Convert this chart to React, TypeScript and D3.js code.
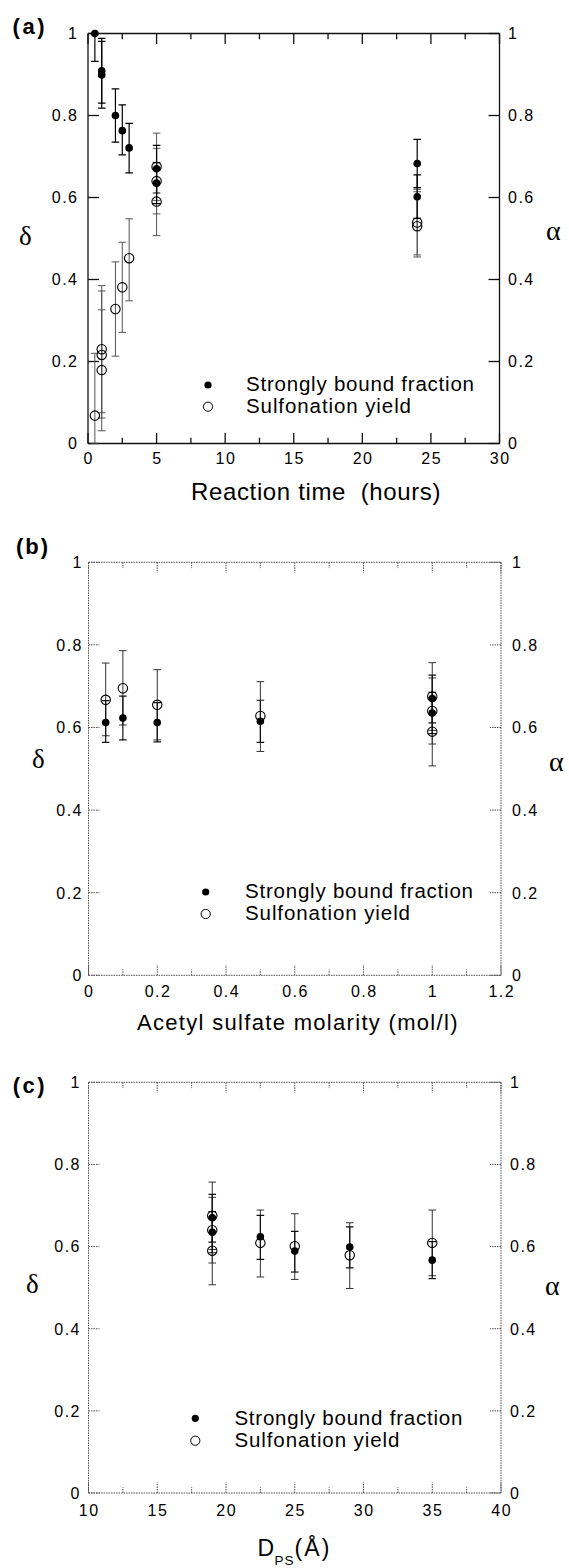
import React from "react";
import * as d3 from "d3";

// ---------- Panel (a): reaction time (hours) ----------
const timeBoundX = [0.5, 1, 1, 2, 2.5, 3, 5, 5, 24, 24];
const timeBoundY = [1.0, 0.909, 0.899, 0.8, 0.763, 0.721, 0.67, 0.635, 0.683, 0.602];
const timeBoundLo = [0.932, 0.83, 0.818, 0.735, 0.704, 0.66, 0.611, 0.585, 0.624, 0.549];
const timeBoundHi = [1.068, 0.988, 0.981, 0.865, 0.826, 0.781, 0.727, 0.685, 0.742, 0.655];
const timeYieldX = [0.5, 1, 1, 1, 2, 2.5, 3, 5, 5, 5, 24, 24];
const timeYieldY = [0.068, 0.23, 0.216, 0.179, 0.328, 0.381, 0.452, 0.675, 0.64, 0.59, 0.539, 0.53];
const timeYieldLo = [0, 0.075, 0.062, 0.031, 0.213, 0.271, 0.348, 0.593, 0.56, 0.507, 0.46, 0.455];
const timeYieldHi = [0.22, 0.385, 0.372, 0.326, 0.443, 0.491, 0.548, 0.757, 0.72, 0.673, 0.62, 0.614];
const timeTicks = [0, 5, 10, 15, 20, 25, 30];
const timeMinorTicks = [2.5, 7.5, 12.5, 17.5, 22.5, 27.5];

// ---------- Panel (b): acetyl sulfate molarity (mol/l) ----------
const molarityBoundX = [0.05, 0.1, 0.2, 0.5, 1, 1];
const molarityBoundY = [0.612, 0.623, 0.612, 0.615, 0.67, 0.635];
const molarityBoundLo = [0.564, 0.57, 0.565, 0.564, 0.611, 0.585];
const molarityBoundHi = [0.665, 0.676, 0.66, 0.666, 0.727, 0.685];
const molarityYieldX = [0.05, 0.1, 0.2, 0.5, 1, 1, 1];
const molarityYieldY = [0.667, 0.695, 0.655, 0.628, 0.675, 0.64, 0.59];
const molarityYieldLo = [0.58, 0.606, 0.57, 0.542, 0.593, 0.56, 0.507];
const molarityYieldHi = [0.756, 0.786, 0.74, 0.711, 0.757, 0.72, 0.673];
const molarityTicks = [0, 0.2, 0.4, 0.6, 0.8, 1, 1.2];
const molarityMinorTicks = [0.1, 0.3, 0.5, 0.7, 0.9, 1.1];

// ---------- Panel (c): D_PS (Å) ----------
const diameterBoundX = [19, 19, 22.5, 25, 29, 35];
const diameterBoundY = [0.67, 0.635, 0.624, 0.589, 0.599, 0.567];
const diameterBoundLo = [0.611, 0.585, 0.569, 0.538, 0.548, 0.522];
const diameterBoundHi = [0.727, 0.685, 0.676, 0.637, 0.648, 0.612];
const diameterYieldX = [19, 19, 19, 22.5, 25, 29, 35];
const diameterYieldY = [0.675, 0.64, 0.59, 0.609, 0.601, 0.579, 0.609];
const diameterYieldLo = [0.593, 0.56, 0.507, 0.526, 0.52, 0.498, 0.529];
const diameterYieldHi = [0.757, 0.72, 0.673, 0.689, 0.68, 0.658, 0.689];
const diameterTicks = [10, 15, 20, 25, 30, 35, 40];
const diameterMinorTicks = [12.5, 17.5, 22.5, 27.5, 32.5, 37.5];

const fractionTicks = [0, 0.2, 0.4, 0.6, 0.8, 1];
const legendLabels = ["Strongly bound fraction", "Sulfonation yield"];

const SANS = "'Liberation Sans', Arial, Helvetica, sans-serif";
const SERIF = "'Liberation Serif', 'Times New Roman', serif";

type Series = { x: number[]; y: number[]; lo: number[]; hi: number[] };

type PanelProps = {
  id: string;
  left: number; right: number; top: number; bottom: number;
  xDomain: [number, number];
  xTicks: number[]; xMinor: number[];
  bound: Series; yld: Series;
  tag: string; tagX: number; tagY: number;
  deltaX: number; deltaY: number; alphaX: number; alphaY: number;
  leftGap: number; rightGap: number; xLabelDy: number;
  frameStroke: string; frameWidth: number; frameDash?: string;
  boundBar: string; yieldBar: string;
  legX: number; legY1: number; legY2: number; legTextX: number; legBase1: number; legBase2: number;
  title: React.ReactNode;
};

function Panel(p: PanelProps) {
  const x = d3.scaleLinear().domain(p.xDomain).range([p.left, p.right]);
  const y = d3.scaleLinear().domain([0, 1]).range([p.bottom, p.top]);
  const cap = 3.8;
  const major = 10.5, minor = 5.8, yTick = 11;
  const tickStyle = { stroke: p.frameStroke, strokeWidth: p.frameWidth, strokeDasharray: p.frameDash };
  const bars = (s: Series, color: string, w: number) =>
    s.x.map((xv, i) => {
      const cx = x(xv), y1 = y(s.lo[i]), y2 = y(s.hi[i]);
      return (
        <g key={i} stroke={color} strokeWidth={w}>
          <line x1={cx} x2={cx} y1={y1} y2={y2} />
          <line x1={cx - cap} x2={cx + cap} y1={y1} y2={y1} />
          <line x1={cx - cap} x2={cx + cap} y1={y2} y2={y2} />
        </g>
      );
    });
  return (
    <g>
      <defs>
        <clipPath id={p.id}>
          <rect x={p.left} y={p.top} width={p.right - p.left} height={p.bottom - p.top} />
        </clipPath>
      </defs>
      {/* frame */}
      <g fill="none" style={tickStyle as any}>
        <line x1={p.left} x2={p.right} y1={p.bottom} y2={p.bottom} />
        <line x1={p.left} x2={p.right} y1={p.top} y2={p.top} />
        <line x1={p.left} x2={p.left} y1={p.top} y2={p.bottom} />
        <line x1={p.right} x2={p.right} y1={p.top} y2={p.bottom} />
        {p.xTicks.map((t) => (
          <g key={"M" + t}>
            <line x1={x(t)} x2={x(t)} y1={p.bottom} y2={p.bottom - major} />
            <line x1={x(t)} x2={x(t)} y1={p.top} y2={p.top + major} />
          </g>
        ))}
        {p.xMinor.map((t) => (
          <g key={"m" + t}>
            <line x1={x(t)} x2={x(t)} y1={p.bottom} y2={p.bottom - minor} />
            <line x1={x(t)} x2={x(t)} y1={p.top} y2={p.top + minor} />
          </g>
        ))}
        {fractionTicks.map((t) => (
          <g key={"y" + t}>
            <line x1={p.left} x2={p.left + yTick} y1={y(t)} y2={y(t)} />
            <line x1={p.right} x2={p.right - yTick} y1={y(t)} y2={y(t)} />
          </g>
        ))}
      </g>
      {/* tick labels */}
      <g fontFamily={SANS} fontSize={16} fill="#000" style={{ letterSpacing: "1.5px" }}>
        {fractionTicks.map((t) => (
          <text key={"l" + t} x={p.left - p.leftGap + 1.5} y={y(t) + 5.8} textAnchor="end">{String(t)}</text>
        ))}
        {fractionTicks.map((t) => (
          <text key={"r" + t} x={p.right + p.rightGap} y={y(t) + 5.8} textAnchor="start">{String(t)}</text>
        ))}
        {p.xTicks.map((t) => (
          <text key={"b" + t} x={x(t) + 0.75} y={p.bottom + p.xLabelDy} textAnchor="middle">{String(t)}</text>
        ))}
      </g>
      {/* error bars (clipped to the plot frame) */}
      <g clipPath={`url(#${p.id})`}>
        {bars(p.yld, p.yieldBar, 1)}
        {bars(p.bound, p.boundBar, 1.2)}
      </g>
      {/* markers */}
      <g>
        {p.yld.x.map((xv, i) => (
          <circle key={"o" + i} cx={x(xv)} cy={y(p.yld.y[i])} r={4.7} fill="none" stroke="#000" strokeWidth={1.1} />
        ))}
        {p.bound.x.map((xv, i) => (
          <circle key={"f" + i} cx={x(xv)} cy={y(p.bound.y[i])} r={3.8} fill="#000" />
        ))}
      </g>
      {/* legend */}
      <circle cx={p.legX} cy={p.legY1} r={3.6} fill="#000" />
      <circle cx={p.legX} cy={p.legY2} r={4.6} fill="none" stroke="#000" strokeWidth={1} />
      <g fontFamily={SANS} fontSize={20.5} fill="#000">
        <text x={p.legTextX} y={p.legBase1} textLength={228} lengthAdjust="spacing">{legendLabels[0]}</text>
        <text x={p.legTextX} y={p.legBase2} textLength={165} lengthAdjust="spacing">{legendLabels[1]}</text>
      </g>
      {/* panel tag and axis symbols */}
      <text x={p.tagX} y={p.tagY} fontFamily={SANS} fontWeight="bold" fontSize={22} textLength={32} lengthAdjust="spacing">{p.tag}</text>
      <text x={p.deltaX} y={p.deltaY} fontFamily={SERIF} fontSize={27}>δ</text>
      <text x={p.alphaX} y={p.alphaY} fontFamily={SERIF} fontSize={28}>α</text>
      {p.title}
    </g>
  );
}

export default function App() {
  return (
    <div style={{ position: "absolute", left: 0, top: 0 }}>
      <svg width={569} height={1568} viewBox="0 0 569 1568" style={{ display: "block", background: "#fff" }}>
        <rect x={0} y={0} width={569} height={1568} fill="#fff" />
        <Panel
          id="clipA" left={88} right={499.5} top={33.5} bottom={443.5}
          xDomain={[0, 30]} xTicks={timeTicks} xMinor={timeMinorTicks}
          bound={{ x: timeBoundX, y: timeBoundY, lo: timeBoundLo, hi: timeBoundHi }}
          yld={{ x: timeYieldX, y: timeYieldY, lo: timeYieldLo, hi: timeYieldHi }}
          tag="(a)" tagX={12.5} tagY={33.5}
          deltaX={19} deltaY={245} alphaX={546} alphaY={240}
          leftGap={11} rightGap={8.5} xLabelDy={20.5}
          frameStroke="#111" frameWidth={1.3}
          boundBar="#000" yieldBar="#555"
          legX={208} legY1={385} legY2={406.7} legTextX={246} legBase1={390.7} legBase2={412.7}
          title={
            <text x={191} y={500} fontFamily={SANS} fontSize={24} textLength={249.5} lengthAdjust="spacing" style={{ whiteSpace: "pre" }}>
              {"Reaction time  (hours)"}
            </text>
          }
        />
        <Panel
          id="clipB" left={88.5} right={501} top={562.3} bottom={975.3}
          xDomain={[0, 1.2]} xTicks={molarityTicks} xMinor={molarityMinorTicks}
          bound={{ x: molarityBoundX, y: molarityBoundY, lo: molarityBoundLo, hi: molarityBoundHi }}
          yld={{ x: molarityYieldX, y: molarityYieldY, lo: molarityYieldLo, hi: molarityYieldHi }}
          tag="(b)" tagX={16} tagY={554.3}
          deltaX={32} deltaY={768} alphaX={549} alphaY={771}
          leftGap={7} rightGap={11} xLabelDy={21.5}
          frameStroke="#555" frameWidth={1} frameDash="1.6 0.9"
          boundBar="#111" yieldBar="#333"
          legX={205.7} legY1={892} legY2={914} legTextX={245} legBase1={898.3} legBase2={920}
          title={
            <text x={137} y={1030} fontFamily={SANS} fontSize={22} textLength={320.5} lengthAdjust="spacing">
              Acetyl sulfate molarity (mol/l)
            </text>
          }
        />
        <Panel
          id="clipC" left={88.5} right={501} top={1082.3} bottom={1493}
          xDomain={[10, 40]} xTicks={diameterTicks} xMinor={diameterMinorTicks}
          bound={{ x: diameterBoundX, y: diameterBoundY, lo: diameterBoundLo, hi: diameterBoundHi }}
          yld={{ x: diameterYieldX, y: diameterYieldY, lo: diameterYieldLo, hi: diameterYieldHi }}
          tag="(c)" tagX={12.7} tagY={1093.3}
          deltaX={26} deltaY={1293} alphaX={545} alphaY={1295}
          leftGap={9} rightGap={9} xLabelDy={23}
          frameStroke="#555" frameWidth={1} frameDash="1.6 0.9"
          boundBar="#111" yieldBar="#333"
          legX={195.3} legY1={1418.3} legY2={1440.7} legTextX={234.4} legBase1={1425} legBase2={1446.7}
          title={
            <g fontFamily={SANS} fill="#000">
              <text x={257.5} y={1555.5} fontSize={23}>D</text>
              <text x={274.5} y={1565} fontSize={13.5} textLength={19} lengthAdjust="spacing">PS</text>
              <text x={294.5} y={1555.5} fontSize={23} textLength={35} lengthAdjust="spacing">(Å)</text>
            </g>
          }
        />
      </svg>
    </div>
  );
}
